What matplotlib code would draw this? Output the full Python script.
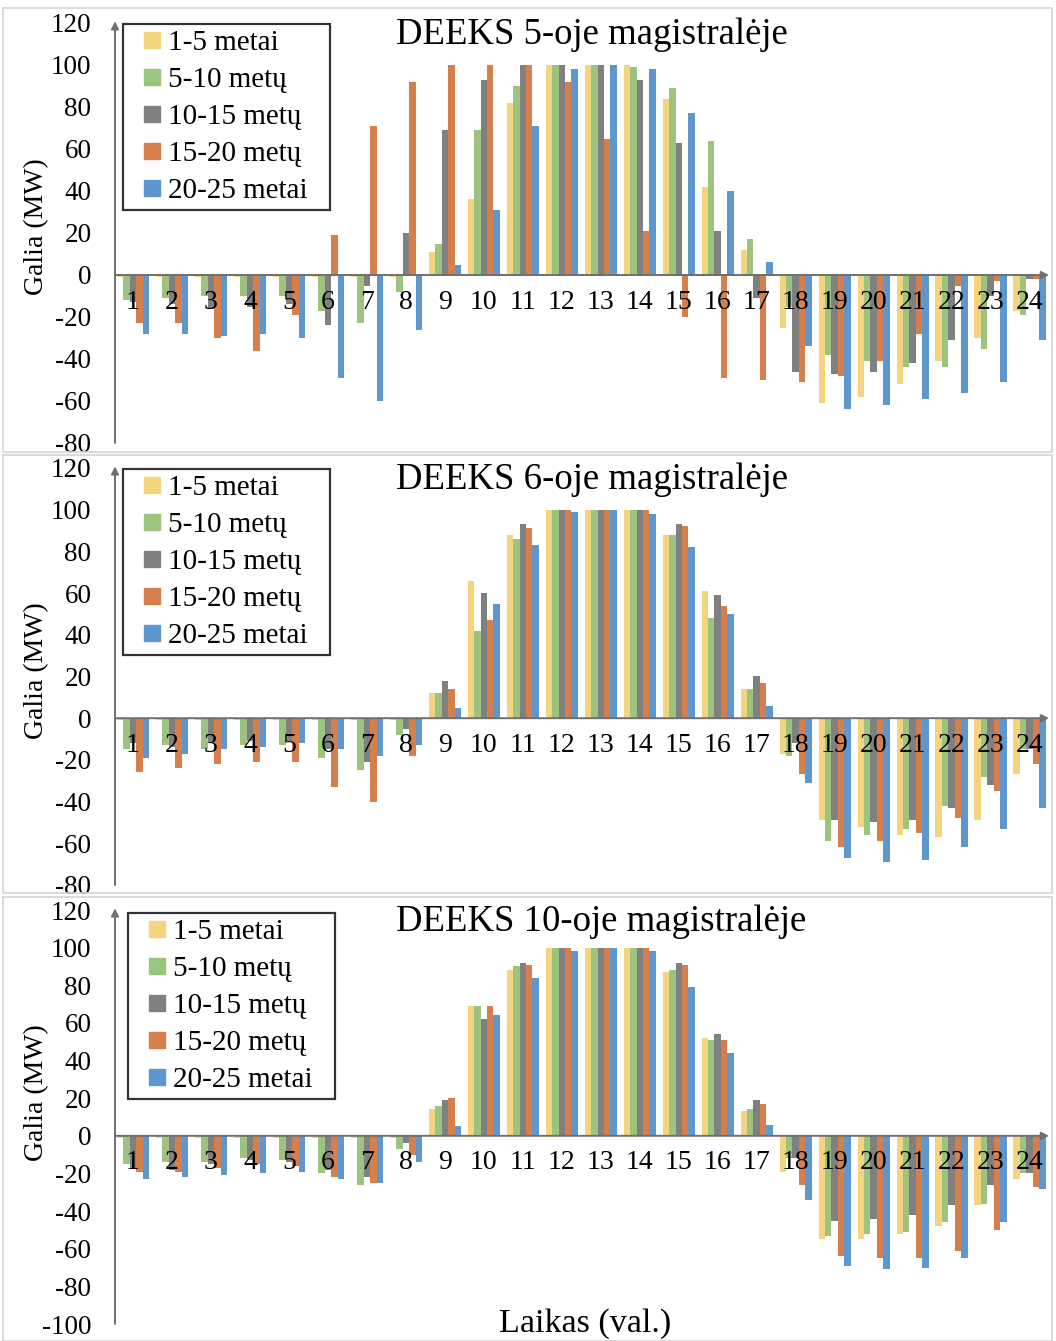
import matplotlib.pyplot as plt
from matplotlib.lines import Line2D

plt.rcParams['font.family'] = ['Liberation Serif', 'DejaVu Serif']
plt.rcParams['axes.unicode_minus'] = False

hours = list(range(1, 25))
series_names = ["1-5 metai", "5-10 metų", "10-15 metų", "15-20 metų", "20-25 metai"]
colors = ["#F4D47E", "#9CC47F", "#808080", "#D57F4C", "#5E97CE"]

# DEEKS 5-oje magistraleje
m5_y1_5 = [-1, -1, -1, -1, -1, -1, -1, -1, 11, 36, 82, 100, 100, 100, 84, 42, 12, -25, -61, -58, -52, -41, -30, -17]
m5_y5_10 = [-12, -11, -10, -10, -10, -17, -23, -8, 15, 69, 90, 100, 100, 99, 89, 64, 17, -15, -38, -41, -44, -44, -35, -19]
m5_y10_15 = [-13, -14, -16, -15, -14, -24, -5, 20, 69, 93, 100, 100, 100, 93, 63, 21, -11, -46, -47, -46, -42, -31, -10, -2]
m5_y15_20 = [-23, -23, -30, -36, -19, 19, 71, 92, 100, 100, 100, 92, 65, 21, -20, -49, -50, -51, -48, -41, -28, -5, -3, -2]
m5_y20_25 = [-28, -28, -29, -28, -30, -49, -60, -26, 5, 31, 71, 98, 100, 98, 77, 40, 6, -34, -64, -62, -59, -56, -51, -31]

# DEEKS 6-oje magistraleje
m6_y1_5 = [-1, -1, -1, -1, -1, -1, -1, -1, 12, 66, 88, 100, 100, 100, 88, 61, 14, -17, -49, -52, -56, -57, -49, -27]
m6_y5_10 = [-15, -13, -15, -13, -13, -19, -25, -8, 12, 42, 86, 100, 100, 100, 88, 48, 14, -18, -59, -56, -53, -42, -28, -15]
m6_y10_15 = [-12, -14, -12, -11, -11, -15, -21, -5, 18, 60, 93, 100, 100, 100, 93, 59, 20, -12, -49, -50, -49, -43, -32, -15]
m6_y15_20 = [-26, -24, -22, -21, -21, -33, -40, -18, 14, 47, 91, 100, 100, 100, 92, 54, 17, -27, -62, -59, -55, -48, -35, -22]
m6_y20_25 = [-19, -17, -15, -14, -12, -15, -18, -13, 5, 55, 83, 99, 100, 98, 82, 50, 6, -31, -67, -69, -68, -62, -53, -43]

# DEEKS 10-oje magistraleje
m10_y1_5 = [-1, -1, -1, -1, -1, -1, -1, -1, 14, 69, 88, 100, 100, 100, 87, 52, 13, -19, -55, -55, -52, -48, -37, -23]
m10_y5_10 = [-15, -14, -14, -12, -13, -20, -26, -7, 16, 69, 90, 100, 100, 100, 88, 51, 14, -12, -53, -52, -51, -46, -36, -20]
m10_y10_15 = [-17, -18, -15, -13, -14, -18, -22, -4, 19, 62, 92, 100, 100, 100, 92, 54, 19, -12, -45, -44, -42, -37, -26, -20]
m10_y15_20 = [-19, -19, -17, -15, -16, -22, -25, -10, 20, 69, 91, 100, 100, 100, 91, 51, 17, -26, -64, -65, -65, -61, -50, -27]
m10_y20_25 = [-23, -22, -21, -20, -19, -23, -25, -14, 5, 64, 84, 98, 100, 98, 79, 44, 6, -34, -69, -71, -70, -65, -46, -28]

panels = [
    ("DEEKS 5-oje magistralėje", [m5_y1_5, m5_y5_10, m5_y10_15, m5_y15_20, m5_y20_25], (-80, 120)),
    ("DEEKS 6-oje magistralėje", [m6_y1_5, m6_y5_10, m6_y10_15, m6_y15_20, m6_y20_25], (-80, 120)),
    ("DEEKS 10-oje magistralėje", [m10_y1_5, m10_y5_10, m10_y10_15, m10_y15_20, m10_y20_25], (-100, 120)),
]

W, H = 1056, 1341
fig = plt.figure(figsize=(W / 100, H / 100), dpi=100)

# pixel positions (top of 120, bottom tick) of each panel
axes_px = [(23, 443), (468, 885), (910, 1324)]
frames_px = [(8, 452), (455, 893), (897, 1341)]
legend_box = [(123, 24), (123, 469), (128, 913)]

for y0, y1 in frames_px:
    fig.add_artist(Line2D([3 / W, 1052 / W, 1052 / W, 3 / W, 3 / W],
                          [1 - y0 / H, 1 - y0 / H, 1 - y1 / H, 1 - y1 / H, 1 - y0 / H],
                          color="#d4d4d4", lw=1.2))

width = 0.165
ax_w = 934
for (title, series, ylim), (top, bot), (lx, ly) in zip(panels, axes_px, legend_box):
    ax = fig.add_axes([115 / W, 1 - bot / H, ax_w / W, (bot - top) / H])
    ax.set_xlim(0.537, 24.5)
    ax.set_ylim(*ylim)
    for i, (vals, name, c) in enumerate(zip(series, series_names, colors)):
        ax.bar([h + (i - 2) * width for h in hours], vals, width=width, color=c, label=name, zorder=1)

    for s in ax.spines.values():
        s.set_visible(False)
    ax.set_xticks([])
    ax.set_yticks(range(ylim[0], 121, 20))
    ax.tick_params(axis="y", length=0, pad=17, labelsize=19.5)

    # axis lines with arrows
    ax.annotate("", xy=(0, 1.004), xytext=(0, 0), xycoords="axes fraction",
                arrowprops=dict(arrowstyle="-|>", color="#6f6f6f", lw=1.4, shrinkA=0, shrinkB=0,
                                mutation_scale=11), annotation_clip=False)
    ax.annotate("", xy=(1.0, 0), xytext=(0, 0), xycoords=ax.get_yaxis_transform(),
                arrowprops=dict(arrowstyle="-|>", color="#6f6f6f", lw=1.4, shrinkA=0, shrinkB=0,
                                mutation_scale=11), annotation_clip=False)

    for h in hours:
        ax.annotate(str(h), (h, 0), xytext=(0, -19.5), textcoords="offset points",
                    ha="center", va="center", fontsize=20, zorder=4)

    ax.text((396 - 115) / ax_w, (bot - (top + 12)) / (bot - top), title, transform=ax.transAxes,
            ha="left", va="center", fontsize=26.5)
    ax.text(-0.084, 23, "Galia (MW)", transform=ax.get_yaxis_transform(), rotation=90,
            ha="center", va="center", fontsize=20)

    handles = [Line2D([], [], marker="s", linestyle="", markersize=11, color=c) for c in colors]
    leg = ax.legend(handles, series_names, loc="upper left",
                    bbox_to_anchor=((lx - 115) / ax_w, (bot - ly) / (bot - top), 207 / ax_w, 0),
                    mode="expand", borderaxespad=0, fontsize=21, frameon=True, fancybox=False,
                    handlelength=1.6, handletextpad=-0.25, labelspacing=0.36, borderpad=0.2)
    leg.get_frame().set_edgecolor("black")
    leg.get_frame().set_linewidth(1.6)

fig.text(585 / W, 1 - 1324 / H, "Laikas (val.)", ha="center", va="center", fontsize=24.5)

fig.savefig("out.png", dpi=100, facecolor="white")
